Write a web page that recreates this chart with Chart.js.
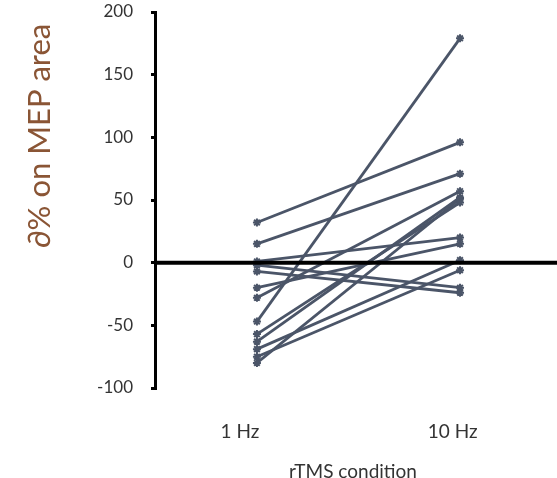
<!DOCTYPE html>
<html>
<head>
<meta charset="utf-8">
<script src="https://cdn.jsdelivr.net/npm/chart.js@4"></script>
<style>
  html, body { margin: 0; padding: 0; background: #fff; }
  #wrap { width: 557px; height: 478px; }
</style>
</head>
<body>
<div id="wrap"><canvas id="chart" width="557" height="478"></canvas></div>
<script>
// categories (x positions 1 and 2)
const conditions = ['1 Hz', '10 Hz'];
// change in MEP area per subject
const at1Hz  = [32, 15, 1, -2, -7, -20, -28, -47, -57, -63, -69, -75, -80];
const at10Hz = [96, 71, 20, -20, -24, 15, 57, 179, 48, 52, 2, -6, 51];
const yTicks = [-100, -50, 0, 50, 100, 150, 200];

const lineColor = '#4b5568';

// one dataset per subject
const datasets = at1Hz.map((v, i) => ({
    data: [{ x: 1, y: v }, { x: 2, y: at10Hz[i] }],
    borderColor: lineColor,
    backgroundColor: lineColor,
    borderWidth: 2.8,
    pointStyle: 'star',
    pointRadius: 4,
    pointBorderWidth: 2,
    pointBorderColor: lineColor,
    fill: false
}));

// thick zero line and rotated y title
const extras = {
    id: 'extras',
    afterDatasetsDraw(chart) {
        const ctx = chart.ctx;
        const y0 = chart.scales.y.getPixelForValue(0);
        ctx.save();
        ctx.strokeStyle = '#000';
        ctx.lineWidth = 4;
        ctx.beginPath();
        ctx.moveTo(chart.chartArea.left, y0);
        ctx.lineTo(chart.width, y0);
        ctx.stroke();

        ctx.translate(40, 136);
        ctx.rotate(-Math.PI / 2);
        ctx.fillStyle = '#8a5535';
        ctx.font = '31px Lato, sans-serif';
        ctx.textAlign = 'center';
        ctx.textBaseline = 'middle';
        ctx.fillText('∂% on MEP area', 0, 0);
        ctx.restore();
    }
};

new Chart(document.getElementById('chart'), {
    type: 'line',
    data: { datasets },
    options: {
        responsive: false,
        animation: false,
        layout: { padding: { top: 12, right: 0, left: 0, bottom: 0 } },
        plugins: { legend: { display: false }, tooltip: { enabled: false } },
        scales: {
            x: {
                type: 'linear',
                min: 0.498,
                max: 2.448,
                afterBuildTicks: s => { s.ticks = [{ value: 1 }, { value: 2 }]; },
                afterFit: s => { s.height = 90; s.paddingLeft = 0; s.paddingRight = 0; },
                grid: { display: false },
                border: { display: false },
                ticks: {
                    padding: 24,
                    color: '#333',
                    font: { family: 'Lato', size: 19 },
                    // labels sit a little left of the markers in the original
                    callback: v => v === 1 ? conditions[0] + '       ' : conditions[1] + '   '
                },
                title: {
                    display: true,
                    text: 'rTMS condition',
                    color: '#333',
                    font: { family: 'Lato', size: 19 },
                    padding: { top: 22, bottom: -5 }
                }
            },
            y: {
                min: -100,
                max: 200,
                afterFit: s => { s.width = 155; s.paddingTop = 0; s.paddingBottom = 0; },
                afterBuildTicks: s => { s.ticks = yTicks.map(v => ({ value: v })); },
                grid: {
                    drawOnChartArea: false,
                    drawTicks: true,
                    tickLength: 4,
                    color: '#000',
                    lineWidth: 3
                },
                border: { color: '#000', width: 3 },
                ticks: {
                    padding: 18,
                    color: '#333',
                    font: { family: 'Lato', size: 17 }
                }
            }
        }
    },
    plugins: [extras]
});
</script>
</body>
</html>
